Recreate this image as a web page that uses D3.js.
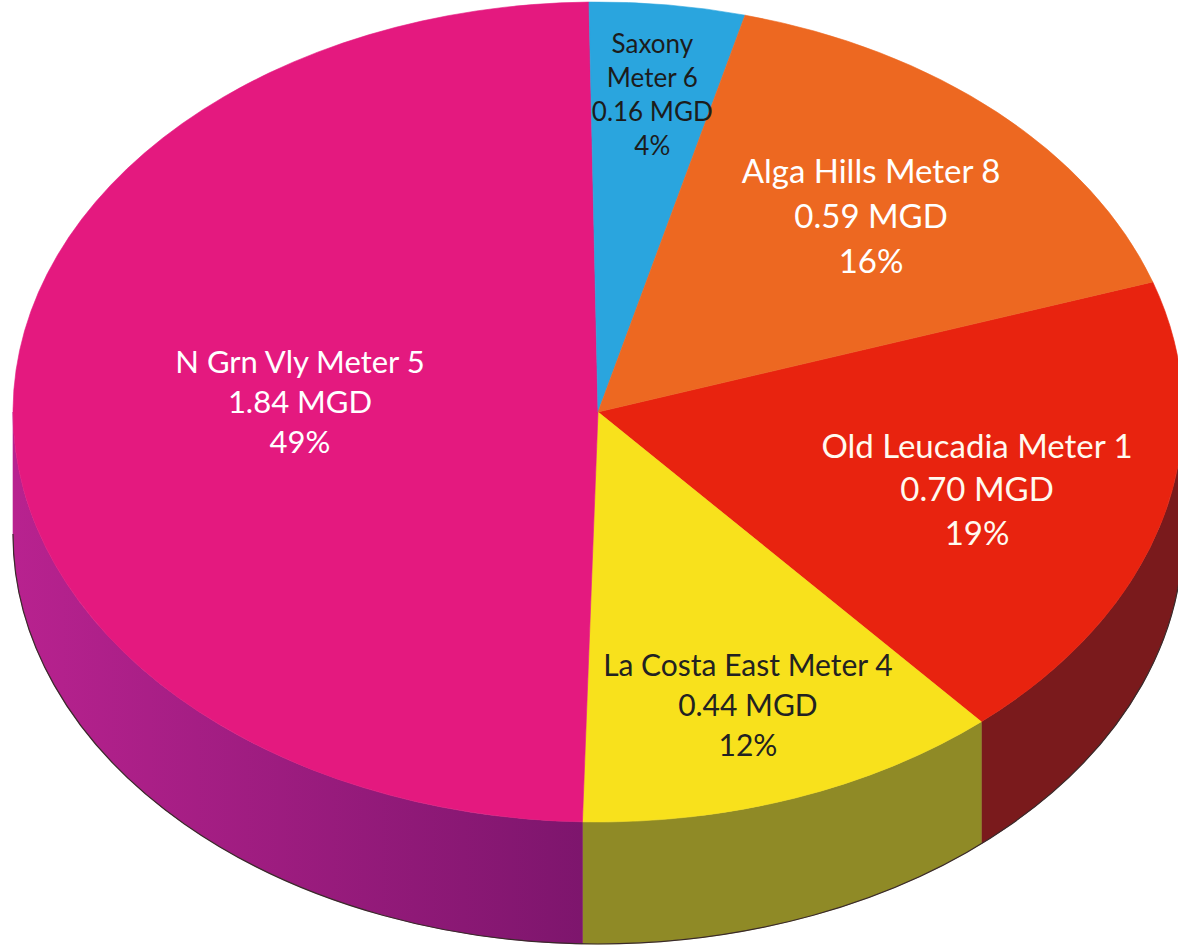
<!DOCTYPE html>
<html>
<head>
<meta charset="utf-8">
<script src="https://cdn.jsdelivr.net/npm/d3@7"></script>
<style>
  html, body { margin: 0; padding: 0; background: #fff; }
  svg { display: block; }
  text { font-family: Lato, "Noto Sans", sans-serif; }
</style>
</head>
<body>
<svg id="chart" width="1178" height="947"></svg>
<script>
// meter flows, MGD
const meters = ["Old Leucadia Meter 1", "La Costa East Meter 4", "N Grn Vly Meter 5", "Saxony Meter 6", "Alga Hills Meter 8"];
const nameLines = [["Old Leucadia Meter 1"], ["La Costa East Meter 4"], ["N Grn Vly Meter 5"], ["Saxony", "Meter 6"], ["Alga Hills Meter 8"]];
const flowMGD = [0.70, 0.44, 1.84, 0.16, 0.59];
const shareLabels = ["19%", "12%", "49%", "4%", "16%"];

const topColors  = ["#e8230f", "#f8e11c", "#e4197f", "#2aa5de", "#ed6821"];
const sideColors = ["#7a1a1c", "#8f8a26", "#9a1a80", "#1d6f96", "#9a4414"];
const textColors = ["#fffaf0", "#222", "#fff", "#1c1c1c", "#fff"];
const fontSizes  = [33, 30, 31, 26, 33];
const lineHeights = [1.33, 1.33, 1.29, 1.31, 1.35];
const labelRadius = [0.675, 0.76, 0.51, 0.78, 0.668];
const labelTurn = [1.0, 0, 2.4, 0, 1.3]; // degrees past slice middle

const W = 1178, H = 947;
const cx = 598, cy = 412, rx = 585, ry = 410, depth = 122;
const firstSliceAngle = 71.5; // degrees, clockwise from 12 o'clock

const svg = d3.select('#chart');
const defs = svg.append('defs');

const purple = defs.append('linearGradient')
  .attr('id', 'side-grad-2')
  .attr('gradientUnits', 'userSpaceOnUse')
  .attr('x1', -rx).attr('y1', 0).attr('x2', 0).attr('y2', 0);
purple.append('stop').attr('offset', 0).attr('stop-color', '#b8228f');
purple.append('stop').attr('offset', 1).attr('stop-color', '#7c156c');

const data = meters.map((m, i) => ({ name: m, value: flowMGD[i], i }));

const a0 = firstSliceAngle * Math.PI / 180;
const pie = d3.pie()
  .sort(null)
  .value(d => d.value)
  .startAngle(a0)
  .endAngle(a0 + 2 * Math.PI);
const arcs = pie(data);

// draw in circle space, squash vertically to get the ellipse
const k = ry / rx;
const g = svg.append('g').attr('transform', `translate(${cx},${cy}) scale(1,${k})`);
const D = depth / k;

// side walls: only the front half (90deg .. 270deg) is visible
function sidePath(s, e) {
  const p = d3.path();
  p.arc(0, 0, rx, s - Math.PI / 2, e - Math.PI / 2, false);
  p.lineTo(rx * Math.sin(e), -rx * Math.cos(e) + D);
  p.arc(0, D, rx, e - Math.PI / 2, s - Math.PI / 2, true);
  p.closePath();
  return p.toString();
}

const sides = [];
arcs.forEach(a => {
  // check this slice in both turns
  [0, 2 * Math.PI, -2 * Math.PI].forEach(off => {
    const s = Math.max(a.startAngle + off, Math.PI / 2);
    const e = Math.min(a.endAngle + off, 3 * Math.PI / 2);
    if (e > s) sides.push({ s, e, i: a.data.i });
  });
});

g.selectAll('path.side')
  .data(sides)
  .enter()
  .append('path')
  .attr('class', 'side')
  .attr('d', d => sidePath(d.s, d.e))
  .attr('fill', d => d.i === 2 ? 'url(#side-grad-2)' : sideColors[d.i])
  .attr('stroke', d => d.i === 2 ? 'url(#side-grad-2)' : sideColors[d.i])
  .attr('stroke-width', 0.6)
  .attr('vector-effect', 'non-scaling-stroke');

// thin dark rim along the bottom edge
const rim = d3.path();
rim.arc(0, D, rx, 0, Math.PI, false);
g.append('path')
  .attr('d', rim.toString())
  .attr('fill', 'none')
  .attr('stroke', '#3a2a2a')
  .attr('stroke-width', 1.2)
  .attr('vector-effect', 'non-scaling-stroke');

const topArc = d3.arc().innerRadius(0).outerRadius(rx);
g.selectAll('path.top')
  .data(arcs)
  .enter()
  .append('path')
  .attr('class', 'top')
  .attr('d', topArc)
  .attr('fill', d => topColors[d.data.i])
  .attr('stroke', d => topColors[d.data.i])
  .attr('stroke-width', 0.6)
  .attr('vector-effect', 'non-scaling-stroke');

// labels, placed on the ellipse near the slice middle
const labels = svg.append('g');
arcs.forEach(a => {
  const i = a.data.i;
  const mid = (a.startAngle + a.endAngle) / 2 + labelTurn[i] * Math.PI / 180;
  const x = cx + labelRadius[i] * rx * Math.sin(mid);
  const y = cy - labelRadius[i] * ry * Math.cos(mid);
  const lines = nameLines[i].concat([flowMGD[i].toFixed(2) + ' MGD', shareLabels[i]]);
  const fs = fontSizes[i];
  const lh = fs * lineHeights[i];
  const t = labels.append('text')
    .attr('text-anchor', 'middle')
    .attr('font-size', fs)
    .attr('fill', textColors[i]);
  lines.forEach((ln, j) => {
    t.append('tspan')
      .attr('x', x)
      .attr('y', y + (j - (lines.length - 1) / 2) * lh)
      .attr('dy', '0.36em')
      .text(ln);
  });
});
</script>
</body>
</html>
